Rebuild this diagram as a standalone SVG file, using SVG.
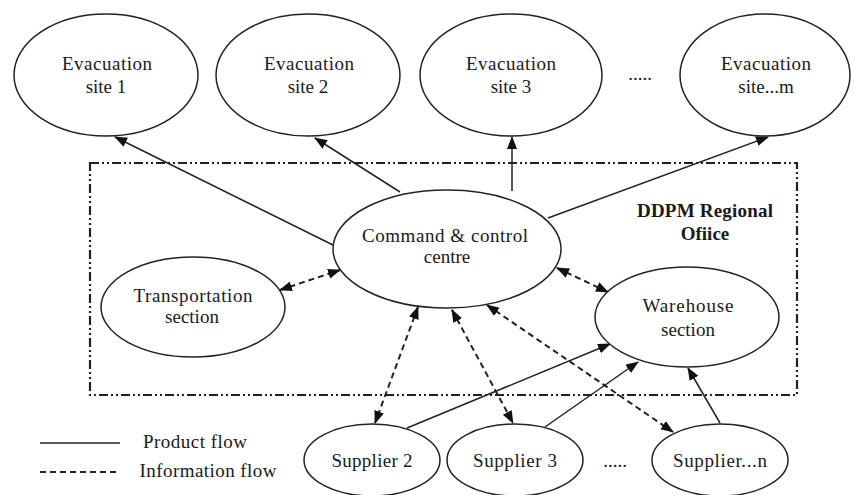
<svg xmlns="http://www.w3.org/2000/svg" width="855" height="495" viewBox="0 0 855 495" font-family="'Liberation Serif', 'Times New Roman', serif">
<defs>
<style>
.node{fill:#fff;stroke:#222;stroke-width:1.5}
text{font-family:"Liberation Serif","Times New Roman",serif;font-size:19px;fill:#1a1a1a;text-anchor:middle}
.bold{font-weight:bold}
.solid{stroke:#222;stroke-width:1.5;fill:none}
.dash{stroke:#222;stroke-width:2;stroke-dasharray:6 4;fill:none}
.border{fill:none;stroke:#222;stroke-width:2.2;stroke-dasharray:9 3 2 3 2 3}
</style>
<marker id="arr" markerUnits="userSpaceOnUse" markerWidth="13" markerHeight="11" refX="12" refY="5" orient="auto-start-reverse">
<path d="M0,0 L13,5 L0,10 z" fill="#111"/>
</marker>
</defs>
<rect width="855" height="495" fill="#fff"/>
<rect class="border" x="90" y="163" width="707" height="232"/>
<g id="connectors">
<line class="solid" x1="333" y1="245" x2="115" y2="137" marker-end="url(#arr)"/>
<line class="solid" x1="400" y1="192" x2="315" y2="138" marker-end="url(#arr)"/>
<line class="solid" x1="512" y1="191" x2="512" y2="137" marker-end="url(#arr)"/>
<line class="solid" x1="548" y1="218" x2="768" y2="137" marker-end="url(#arr)"/>
<line class="dash" x1="280" y1="290" x2="340" y2="270" marker-start="url(#arr)" marker-end="url(#arr)"/>
<line class="dash" x1="557" y1="268" x2="608" y2="292" marker-start="url(#arr)" marker-end="url(#arr)"/>
<line class="dash" x1="418" y1="307" x2="375" y2="423" marker-start="url(#arr)" marker-end="url(#arr)"/>
<line class="dash" x1="452" y1="310" x2="513" y2="423" marker-start="url(#arr)" marker-end="url(#arr)"/>
<line class="dash" x1="487" y1="305" x2="673" y2="432" marker-start="url(#arr)" marker-end="url(#arr)"/>
<line class="solid" x1="407" y1="428" x2="610" y2="344" marker-end="url(#arr)"/>
<line class="solid" x1="545" y1="427" x2="638" y2="362" marker-end="url(#arr)"/>
<line class="solid" x1="720" y1="423" x2="688" y2="368" marker-end="url(#arr)"/>
</g>
<g id="evac1"><ellipse class="node" cx="106" cy="75" rx="92" ry="61"/><text x="107" y="70" textLength="90">Evacuation</text><text x="106" y="93">site 1</text></g>
<g id="evac2"><ellipse class="node" cx="308" cy="75" rx="92" ry="61"/><text x="309" y="70" textLength="90">Evacuation</text><text x="308" y="93">site 2</text></g>
<g id="evac3"><ellipse class="node" cx="511" cy="75" rx="91" ry="61"/><text x="511" y="70" textLength="90">Evacuation</text><text x="511" y="93">site 3</text></g>
<text x="640" y="80">.....</text>
<g id="evacm"><ellipse class="node" cx="765" cy="75" rx="85" ry="61"/><text x="766" y="70" textLength="90">Evacuation</text><text x="766" y="93">site...m</text></g>
<g id="command"><ellipse class="node" cx="447" cy="249" rx="114" ry="59"/><text x="445" y="242" textLength="166">Command &amp; control</text><text x="447" y="263">centre</text></g>
<g id="transport"><ellipse class="node" cx="193" cy="307" rx="92" ry="50"/><text x="193" y="302" textLength="119">Transportation</text><text x="192" y="323">section</text></g>
<g id="warehouse"><ellipse class="node" cx="687" cy="317" rx="92" ry="50"/><text x="688" y="312" textLength="91">Warehouse</text><text x="688" y="336">section</text></g>
<g id="office"><text class="bold" x="705" y="217" textLength="136">DDPM Regional</text><text class="bold" x="705" y="240">Ofiice</text></g>
<g id="supplier2"><ellipse class="node" cx="372" cy="460" rx="68" ry="36"/><text x="372" y="467" textLength="81">Supplier 2</text></g>
<g id="supplier3"><ellipse class="node" cx="515" cy="460" rx="68" ry="36"/><text x="515" y="467" textLength="84">Supplier 3</text></g>
<text x="615" y="467">.....</text>
<g id="suppliern"><ellipse class="node" cx="720" cy="460" rx="68" ry="36"/><text x="720" y="467" textLength="94">Supplier...n</text></g>
<g id="legend">
<line class="solid" x1="40" y1="443" x2="120" y2="443"/>
<line class="dash" x1="40" y1="472" x2="120" y2="472"/>
<text x="195" y="448" textLength="104">Product flow</text>
<text x="208" y="477" textLength="137">Information flow</text>
</g>
</svg>
